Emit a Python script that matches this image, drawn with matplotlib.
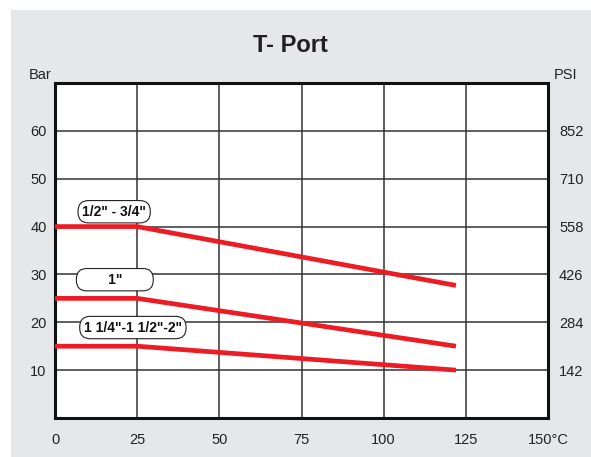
"""
T-Port pressure / temperature rating chart.
"""

import matplotlib
matplotlib.use('Agg')
import matplotlib.pyplot as plt
from matplotlib.patches import Rectangle

plt.rcParams['font.family'] = ['Liberation Sans', 'DejaVu Sans']

# temperature (deg C) vs pressure (bar) for each size group
temp_c = [0, 25, 122]
bar_half_3q = [40, 40, 27.7]
bar_one = [25, 25, 15]
bar_large = [15, 15, 10]

series_labels = ['1/2" - 3/4"', '1"', '1 1/4"-1 1/2"-2"']
label_pos = [(18.0, 43.1), (18.2, 28.9), (23.7, 18.9)]

x_ticks = [0, 25, 50, 75, 100, 125, 150]
x_labels = ['0', '25', '50', '75', '100', '125', '150°C']
bar_ticks = [10, 20, 30, 40, 50, 60]
psi_labels = ['142', '284', '426', '558', '710', '852']

W, H = 591, 457
fig = plt.figure(figsize=(W / 100, H / 100), dpi=100, facecolor='white')

# grey background panel
fig.add_artist(Rectangle((11 / W, 0), 1 - 11 / W, 1 - 10 / H,
                         transform=fig.transFigure, facecolor='#E6E7E9',
                         edgecolor='none', zorder=-10))

ax = fig.add_axes([55 / W, 1 - 418 / H, (548 - 55) / W, (418 - 83) / H])
ax.set_facecolor('white')
ax.set_xlim(0, 150)
ax.set_ylim(0, 70)

ax.set_xticks(x_ticks)
ax.set_xticklabels(x_labels)
ax.set_yticks(bar_ticks)
ax.set_yticklabels([str(v) for v in bar_ticks])
ax.tick_params(length=0, labelsize=10.5, colors='#222222', pad=6)
ax.tick_params(axis='x', pad=11)
ax.grid(True, color='#333333', linewidth=1.1)
ax.set_axisbelow(True)
for s in ax.spines.values():
    s.set_linewidth(2.2)
    s.set_color('#111111')

ax2 = ax.twinx()
ax2.set_ylim(0, 70)
ax2.set_yticks(bar_ticks)
ax2.set_yticklabels(psi_labels)
ax2.tick_params(length=0, labelsize=10.5, colors='#222222', pad=8)
for s in ax2.spines.values():
    s.set_visible(False)

red = '#ED1C24'
for ys in (bar_half_3q, bar_one, bar_large):
    ax.plot(temp_c, ys, color=red, linewidth=3.4, solid_capstyle='butt',
            zorder=3, clip_on=False)

box = dict(boxstyle='round,pad=0.3,rounding_size=0.75', fc='white',
           ec='#222222', lw=0.8)
texts = [series_labels[0], '       ' + series_labels[1] + '       ', series_labels[2]]
for t, (x, y) in zip(texts, label_pos):
    ax.text(x, y, t, ha='center', va='center', fontsize=10,
            fontweight='bold', color='#111111', bbox=box, zorder=4)

fig.text(290 / W, 1 - 45 / H, 'T- Port', ha='center', va='center',
         fontsize=17, fontweight='bold', color='#231F20')
fig.text(40 / W, 1 - 75 / H, 'Bar', ha='center', va='center',
         fontsize=10.5, color='#222222')
fig.text(566 / W, 1 - 75 / H, 'PSI', ha='center', va='center',
         fontsize=10.5, color='#222222')

fig.savefig('out.png', dpi=100, facecolor='white')
